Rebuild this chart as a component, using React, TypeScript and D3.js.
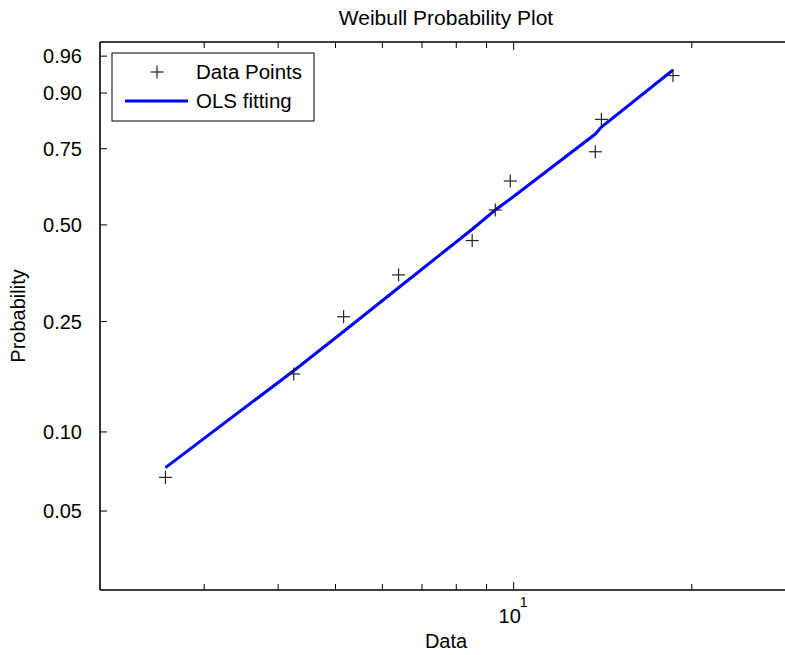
import React from "react";
import * as d3 from "d3";

// Data
const dataX = [2.58, 4.25, 5.16, 6.39, 8.51, 9.31, 9.87, 13.74, 14.07, 18.59];
const dataP = [0.0673, 0.1635, 0.2596, 0.3558, 0.4519, 0.5481, 0.6442, 0.7404, 0.8365, 0.9327];
const fitP = [0.0733, 0.168, 0.2312, 0.3238, 0.4864, 0.5478, 0.584, 0.7949, 0.8153, 0.9415];
const yTicks = [0.05, 0.1, 0.25, 0.5, 0.75, 0.9, 0.96];
const yTickLabels = ["0.05", "0.10", "0.25", "0.50", "0.75", "0.90", "0.96"];
const xTicks = [3, 4, 5, 6, 7, 8, 9, 10, 20];
const xDomain = [2, 30];
const pDomain = [0.0247, 0.9743];

const W = 785;
const H = 655;
const left = 100;
const top = 42;
const bottom = 590;
const right = 796;
const FONT = "'Liberation Sans', Arial, Helvetica, sans-serif";
const FS = 20;

const wt = (p: number) => Math.log(-Math.log(1 - p));

export default function App() {
  const x = d3.scaleLog().domain(xDomain).range([left, right]);
  const y = d3.scaleLinear().domain([wt(pDomain[0]), wt(pDomain[1])]).range([bottom, top]);

  const line = d3
    .line<number>()
    .x((_, i) => x(dataX[i]))
    .y((p) => y(wt(p)));

  const cross = (cx: number, cy: number, k: string) => (
    <g key={k} stroke="#222" strokeWidth={1.2}>
      <line x1={cx - 6.5} x2={cx + 6.5} y1={cy} y2={cy} />
      <line x1={cx} x2={cx} y1={cy - 6.5} y2={cy + 6.5} />
    </g>
  );

  return (
    <svg
      width={W}
      height={H}
      style={{ position: "absolute", left: 0, top: 0, background: "#fff" }}
      fontFamily={FONT}
    >
      <rect x={0} y={0} width={W} height={H} fill="#fff" />
      {/* title */}
      <text x={446} y={25} textAnchor="middle" fontSize={21} fill="#000">
        Weibull Probability Plot
      </text>
      {/* axes box */}
      <g stroke="#000" strokeWidth={1.6} fill="none">
        <line x1={left} x2={left} y1={top} y2={bottom} />
        <line x1={left} x2={right} y1={bottom} y2={bottom} />
        <line x1={left} x2={right} y1={top} y2={top} />
      </g>
      {/* y ticks */}
      {yTicks.map((p, i) => (
        <g key={"yt" + i}>
          <line x1={left} x2={left + 7} y1={y(wt(p))} y2={y(wt(p))} stroke="#000" strokeWidth={1} />
          <text
            x={82}
            y={y(wt(p))}
            textAnchor="end"
            dominantBaseline="central"
            fontSize={FS}
            fill="#000"
          >
            {yTickLabels[i]}
          </text>
        </g>
      ))}
      {/* x ticks */}
      {xTicks.map((v, i) => {
        const len = v === 10 ? 8 : 6;
        return (
          <g key={"xt" + i} stroke="#000" strokeWidth={1}>
            <line x1={x(v)} x2={x(v)} y1={bottom} y2={bottom - len} />
            <line x1={x(v)} x2={x(v)} y1={top} y2={top + len} />
          </g>
        );
      })}
      <text x={x(10) - 4} y={623} textAnchor="middle" fontSize={FS} fill="#000">
        10
      </text>
      <text x={x(10) + 10} y={607} textAnchor="middle" fontSize={14} fill="#000">
        1
      </text>
      {/* x label */}
      <text x={446} y={648} textAnchor="middle" fontSize={FS} fill="#000">
        Data
      </text>
      {/* y label */}
      <text
        transform={`translate(25,316) rotate(-90)`}
        textAnchor="middle"
        fontSize={FS}
        fill="#000"
      >
        Probability
      </text>
      {/* fit line */}
      <path d={line(fitP) || ""} fill="none" stroke="#0000ff" strokeWidth={3} />
      {/* data points */}
      {dataX.map((v, i) => cross(x(v), y(wt(dataP[i])), "p" + i))}
      {/* legend */}
      <rect x={112} y={53} width={202} height={68} fill="#fff" stroke="#000" strokeWidth={1} />
      {cross(157, 72, "lg")}
      <text x={196} y={79} fontSize={20.5} fill="#000">
        Data Points
      </text>
      <line x1={125} x2={188} y1={101} y2={101} stroke="#0000ff" strokeWidth={3} />
      <text x={196} y={108} fontSize={20.5} fill="#000">
        OLS fitting
      </text>
    </svg>
  );
}
